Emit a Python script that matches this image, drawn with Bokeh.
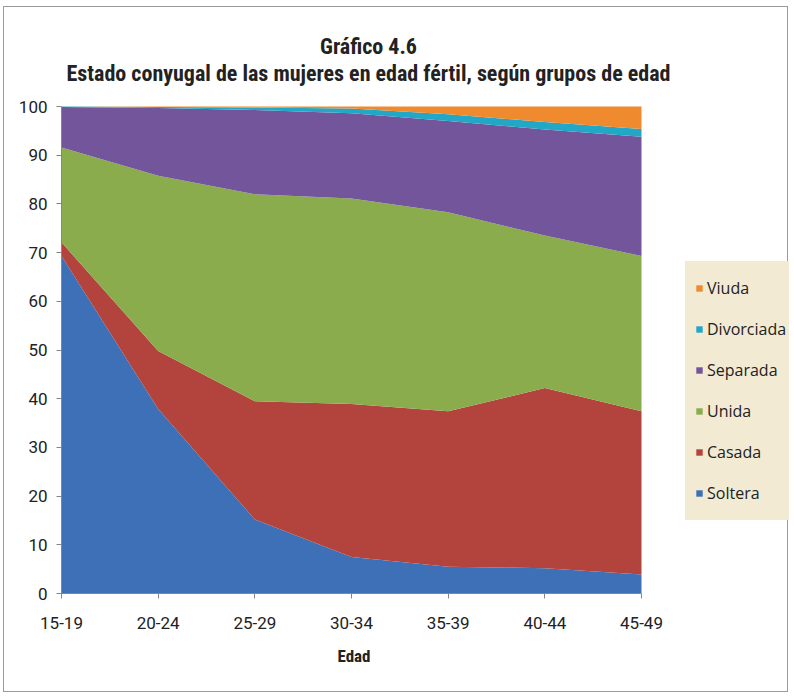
from bokeh.plotting import figure
from bokeh.models import Legend, LegendItem, FixedTicker, Label, Title, Range1d, ColumnDataSource
from bokeh.embed import file_html
from bokeh.resources import INLINE

grupos = ["15-19", "20-24", "25-29", "30-34", "35-39", "40-44", "45-49"]
soltera = [69.3, 37.9, 15.2, 7.5, 5.5, 5.2, 3.9]
casada = [2.8, 11.9, 24.3, 31.4, 31.9, 37.0, 33.5]
unida = [19.5, 36.0, 42.5, 42.2, 40.9, 31.3, 31.9]
separada = [8.3, 13.9, 17.3, 17.5, 18.7, 21.8, 24.5]
divorciada = [0.1, 0.2, 0.5, 1.0, 1.4, 1.5, 1.6]
viuda = [0.0, 0.1, 0.2, 0.4, 1.6, 3.2, 4.6]
y_ticks = list(range(0, 101, 10))

series = ["Soltera", "Casada", "Unida", "Separada", "Divorciada", "Viuda"]
colors = ["#3d70b6", "#b3443d", "#8aac4c", "#72559b", "#22a7c6", "#f08a2e"]
titulo1 = "Gráfico 4.6"
titulo2 = "Estado conyugal de las mujeres en edad fértil, según grupos de edad"
eje_x = "Edad"

src = ColumnDataSource(dict(x=list(range(len(grupos))), Soltera=soltera, Casada=casada,
                            Unida=unida, Separada=separada, Divorciada=divorciada, Viuda=viuda))

TFONT = "Roboto Condensed, Liberation Sans Narrow, sans-serif"
FONT = "Roboto, sans-serif"
LEG_BG = "#f2ead3"

W, H = 785, 686
BL, BR, BT, BB = 57, 0, 4, 100
frame_w = W - BL - BR
frame_h = H - BT - BB
px_x = 580 / (len(grupos) - 1)   # pixels per category step
px_y = 487 / 100.0               # pixels per percent
x_end = frame_w / px_x
y_end = frame_h / px_y

p = figure(width=W, height=H, output_backend="svg", toolbar_location=None,
           x_range=Range1d(0, x_end), y_range=Range1d(0, y_end),
           min_border_left=BL, min_border_right=BR, min_border_top=BT, min_border_bottom=BB)
p.styles = {"border": "1px solid #9a9a9a", "margin-left": "3px", "margin-top": "6px"}
p.outline_line_color = None
p.xgrid.visible = False
p.ygrid.visible = False

rs = p.varea_stack(stackers=series, x="x", color=colors, source=src)

p.xaxis.ticker = FixedTicker(ticks=list(range(len(grupos))))
p.xaxis.major_label_overrides = {i: g for i, g in enumerate(grupos)}
p.xaxis.bounds = (0, len(grupos) - 1)
p.yaxis.ticker = FixedTicker(ticks=y_ticks)
p.yaxis.bounds = (0, 100)
for ax in (p.xaxis[0], p.yaxis[0]):
    ax.axis_line_color = "#868686"
    ax.major_tick_line_color = "#868686"
    ax.minor_tick_line_color = None
    ax.major_tick_out = 5
    ax.major_tick_in = 0
    ax.major_label_text_font = FONT
    ax.major_label_text_font_size = "17px"
    ax.major_label_text_color = "#222222"
p.xaxis.major_label_standoff = 18
p.yaxis.major_label_standoff = 9

p.add_layout(Title(text=eje_x, align="left", offset=276, vertical_align="top", standoff=28,
                   text_font=TFONT, text_font_size="17px", text_font_style="bold",
                   text_color="#222222"), "below")

cx = (368 - 61) / px_x
for txt, ypx in ((titulo1, 46), (titulo2, 73)):
    p.add_layout(Label(x=cx, y=(593 - ypx) / px_y, text=txt, text_align="center",
                       text_baseline="middle", text_font=TFONT, text_font_size="22px",
                       text_font_style="bold", text_color="#222222"))

items = [LegendItem(label=series[i], renderers=[rs[i]]) for i in reversed(range(len(series)))]
legend = Legend(items=items, location=(624, 73), orientation="vertical",
                label_text_font="Open Sans", label_text_font_size="16px", label_text_color="#222222",
                glyph_width=8, glyph_height=8, label_height=34, label_standoff=4,
                spacing=7, padding=0, margin=0,
                background_fill_color=LEG_BG, background_fill_alpha=1.0,
                border_line_color=LEG_BG, border_line_width=10)
p.add_layout(legend, "center")

open("out.html", "w").write(file_html(p, INLINE))
